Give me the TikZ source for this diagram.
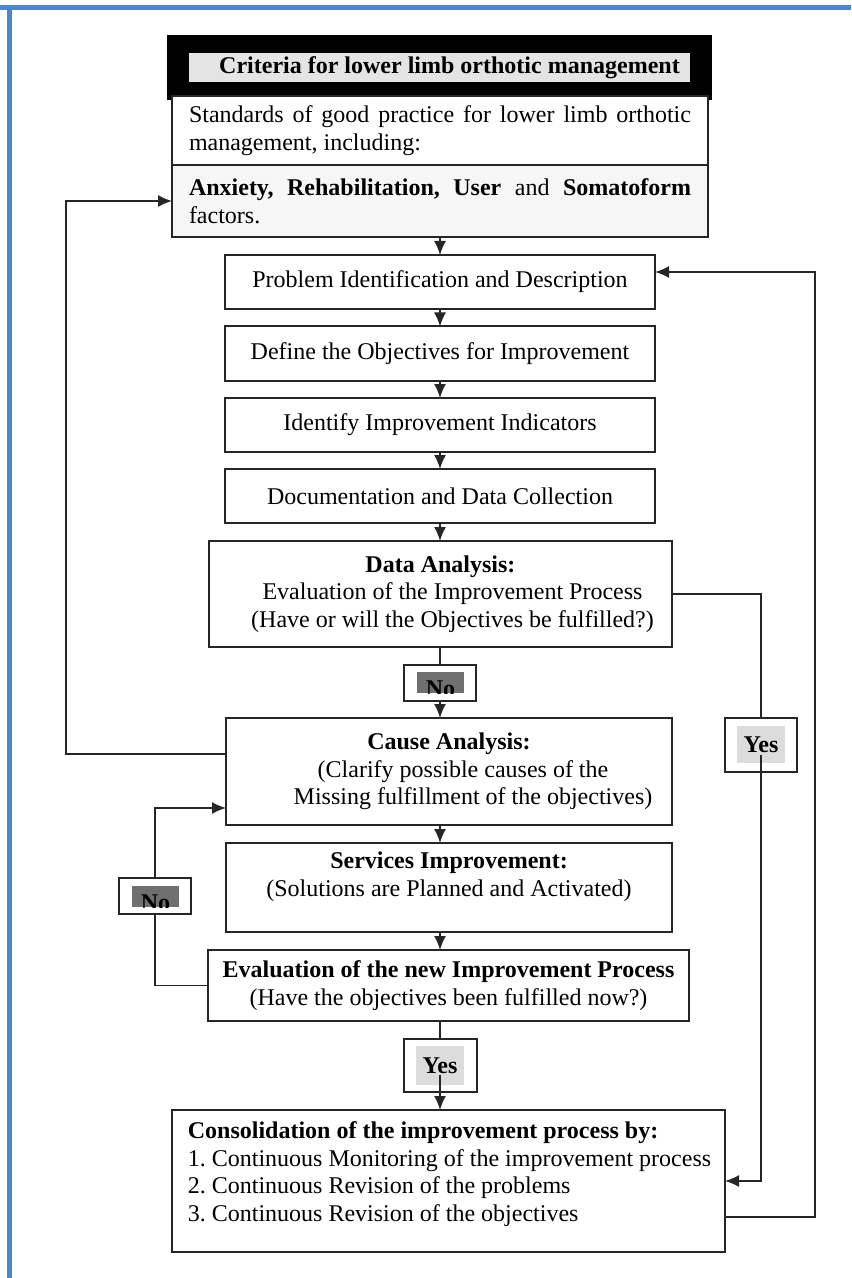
\documentclass[tikz,border=0pt]{standalone}
\usepackage{fontspec}
\setmainfont{Liberation Serif}
\usetikzlibrary{arrows.meta}
\definecolor{frameblue}{HTML}{4F86C8}
\definecolor{lightbar}{HTML}{E4E4E4}
\definecolor{darkbar}{HTML}{6F6F6F}
\definecolor{yesgray}{HTML}{DCDCDC}
\definecolor{paleback}{HTML}{F6F6F6}
\frenchspacing

\begin{document}
\begin{tikzpicture}[x=0.5pt, y=-0.5pt,
  every node/.style={font=\fontsize{12}{13.75}\selectfont, outer sep=0pt},
  box/.style={draw=black!85, line width=1pt, inner sep=0pt, fill=white},
  stepbox/.style={box, minimum width=215pt, minimum height=27pt},
  tag/.style={draw=black!85, line width=0.9pt, inner sep=0pt, fill=white},
  bartxt/.style={inner sep=0pt, font=\fontsize{12}{13.75}\selectfont\bfseries},
  flow/.style={draw=black!85, line width=0.75pt},
  arr/.style={flow, -{Latex[length=7pt,width=6pt]}}]
\useasboundingbox (0,0) rectangle (851,1278);
\fill[white] (0,0) rectangle (851,1278);
\fill[frameblue] (0,5) rectangle (851,10);
\fill[frameblue] (7,5) rectangle (12,1278);

\node[fill=black, minimum width=272.5pt, minimum height=32.5pt] (head) at (439.5,67.5) {};
\node[bartxt, fill=lightbar, minimum width=250.5pt, minimum height=14.5pt] (headtxt) at (439.5,67.5) {\hspace*{10pt}Criteria for lower limb orthotic management};
\node[box, minimum width=268pt, minimum height=34.5pt, text width=251pt, align=justify] (std) at (440,130.5) {Standards of good practice for lower limb orthotic management, including:};
\node[box, fill=paleback, minimum width=268pt, minimum height=36pt, text width=251pt, align=justify] (factors) at (440,201) {\textbf{Anxiety, Rehabilitation, User} and \textbf{Somatoform} factors.};

\node[stepbox] (prob) at (440,282) {Problem Identification and Description};
\node[stepbox] (obj) at (440,353.5) {Define the Objectives for Improvement};
\node[stepbox] (ind) at (440,425) {Identify Improvement Indicators};
\node[stepbox] (doc) at (440,496) {Documentation and Data Collection};
\node[box, minimum width=231.5pt, minimum height=53pt, align=center] (data) at (440.5,594) {\textbf{Data Analysis:}\\\hspace*{12pt}Evaluation of the Improvement Process\\\hspace*{12pt}(Have or will the Objectives be fulfilled?)};

\node[tag, minimum width=36pt, minimum height=18pt] (no1) at (440,683) {};
\node[fill=darkbar, minimum width=23.5pt, minimum height=10.5pt, inner sep=0pt] (no1bar) at (440.5,682.5) {};
\begin{scope}
\clip (no1bar.south west) rectangle (no1bar.north east);
\node[bartxt, anchor=base] (no1txt) at ([yshift=-1.5pt]no1bar.south) {No};
\end{scope}

\node[box, minimum width=223pt, minimum height=53.5pt, align=center] (cause) at (449,771.5) {\textbf{Cause Analysis:}\\\hspace*{14pt}(Clarify possible causes of the\\\hspace*{24pt}Missing fulfillment of the objectives)};
\node[box, minimum width=223pt, minimum height=44.5pt] (serv) at (449,887.5) {};
\node[align=center, inner sep=0pt] (servtxt) at (449,876.5) {\textbf{Services Improvement:}\\(Solutions are Planned and Activated)};
\node[box, minimum width=240.5pt, minimum height=35.5pt, align=center] (eval) at (448.5,985.5) {\textbf{Evaluation of the new Improvement Process}\\(Have the objectives been fulfilled now?)};

\node[tag, minimum width=36.5pt, minimum height=26.5pt] (yes2) at (440.5,1065.5) {};
\node[bartxt, fill=yesgray, minimum width=24pt, minimum height=19.5pt] (yes2bar) at (440,1065.5) {Yes};
\node[box, minimum width=276.5pt, minimum height=71pt] (cons) at (448.5,1181) {};
\node[align=left, inner sep=0pt] (constxt) at (449.5,1174) {\textbf{Consolidation of the improvement process by:}\\1. Continuous Monitoring of the improvement process\\2. Continuous Revision of the problems\\3. Continuous Revision of the objectives};

\node[tag, minimum width=36pt, minimum height=27pt] (yes1) at (761,745) {};
\node[bartxt, fill=yesgray, minimum width=24pt, minimum height=18.5pt] (yes1bar) at (761,744.5) {Yes};

\node[tag, minimum width=36pt, minimum height=18pt] (no2) at (155,896) {};
\node[fill=darkbar, minimum width=23.5pt, minimum height=10.5pt, inner sep=0pt] (no2bar) at (155.5,896.5) {};
\begin{scope}
\clip (no2bar.south west) rectangle (no2bar.north east);
\node[bartxt, anchor=base] (no2txt) at ([yshift=-1.5pt]no2bar.south) {No};
\end{scope}

\coordinate (lloop) at (66,500);
\coordinate (rloop) at (815,700);

\draw[arr] (factors.south) -- (prob.north);
\draw[arr] (prob.south) -- (obj.north);
\draw[arr] (obj.south) -- (ind.north);
\draw[arr] (ind.south) -- (doc.north);
\draw[arr] (doc.south) -- (doc.south |- data.north);
\draw[flow] (data.south -| no1) -- (no1.north);
\draw[arr] (no1.south) -- (no1.south |- cause.north);
\draw[arr] (cause.south -| no1) -- (serv.north -| no1);
\draw[arr] (serv.south -| no1) -- (eval.north -| no1);
\draw[flow] (eval.south -| yes2bar) -- (yes2.north -| yes2bar);
\draw[arr] ([yshift=-4.5pt]yes2bar.center) -- (yes2bar.center |- cons.north);

\draw[flow] (data.east) -| (yes1.north);
\draw[arr] ([yshift=-5pt]yes1bar.center) |- (cons.east);
\draw[arr] ([yshift=-18pt]cons.east) -| (rloop) |- ([yshift=5pt]prob.east);

\draw[arr] ([yshift=8.75pt]cause.west) -| (lloop) |- (factors.west);
\draw[flow] (eval.west) -| (no2.south);
\draw[arr] (no2.north) |- ([yshift=-18.25pt]cause.west);
\end{tikzpicture}
\end{document}
